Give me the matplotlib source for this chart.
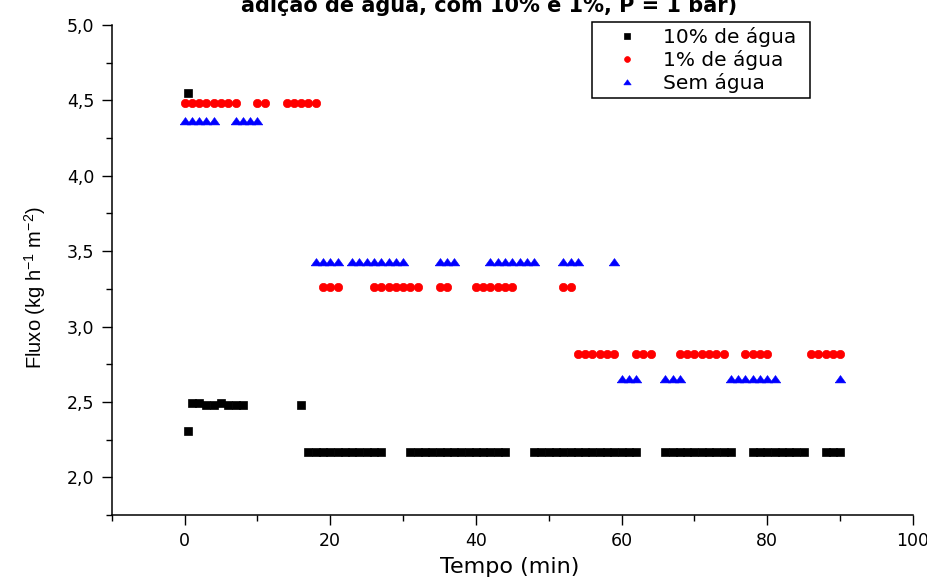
"""
Fluxo de permeado ao longo do tempo, com e sem adição de água.
"""
import matplotlib
matplotlib.use('Agg')
import matplotlib.pyplot as plt
from matplotlib.ticker import MultipleLocator, FuncFormatter

plt.rcParams['font.family'] = 'DejaVu Sans'
plt.rcParams['mathtext.fontset'] = 'custom'
plt.rcParams['mathtext.rm'] = 'Liberation Sans'
plt.rcParams['mathtext.default'] = 'regular'

W, H = 927, 584

# 10% de água
tempo_10 = [0.5, 0.5,
            1, 2, 3, 4, 5, 6, 7, 8,
            16,
            17, 18, 19, 20, 21, 22, 23, 24, 25, 26, 27,
            31, 32, 33, 34, 35, 36, 37, 38, 39, 40, 41, 42, 43, 44,
            48, 49, 50, 51, 52, 53, 54, 55, 56, 57, 58, 59, 60, 61, 62,
            66, 67, 68, 69, 70, 71, 72, 73, 74, 75,
            78, 79, 80, 81, 82, 83, 84, 85,
            88, 89, 90]
fluxo_10 = [4.55, 2.31,
            2.49, 2.49, 2.48, 2.48, 2.49, 2.48, 2.48, 2.48,
            2.48,
            2.17, 2.17, 2.17, 2.17, 2.17, 2.17, 2.17, 2.17, 2.17, 2.17, 2.17,
            2.17, 2.17, 2.17, 2.17, 2.17, 2.17, 2.17, 2.17, 2.17, 2.17, 2.17, 2.17, 2.17, 2.17,
            2.17, 2.17, 2.17, 2.17, 2.17, 2.17, 2.17, 2.17, 2.17, 2.17, 2.17, 2.17, 2.17, 2.17, 2.17,
            2.17, 2.17, 2.17, 2.17, 2.17, 2.17, 2.17, 2.17, 2.17, 2.17,
            2.17, 2.17, 2.17, 2.17, 2.17, 2.17, 2.17, 2.17,
            2.17, 2.17, 2.17]

# 1% de água
tempo_1 = [0, 1, 2, 3, 4, 5, 6, 7,
           10, 11,
           14, 15, 16, 17, 18,
           19, 20, 21,
           26, 27, 28, 29, 30, 31, 32,
           35, 36,
           40, 41, 42, 43, 44, 45,
           52, 53,
           54, 55, 56, 57, 58, 59,
           62, 63, 64,
           68, 69, 70, 71, 72, 73, 74,
           77, 78, 79, 80,
           86, 87, 88, 89, 90]
fluxo_1 = [4.48, 4.48, 4.48, 4.48, 4.48, 4.48, 4.48, 4.48,
           4.48, 4.48,
           4.48, 4.48, 4.48, 4.48, 4.48,
           3.26, 3.26, 3.26,
           3.26, 3.26, 3.26, 3.26, 3.26, 3.26, 3.26,
           3.26, 3.26,
           3.26, 3.26, 3.26, 3.26, 3.26, 3.26,
           3.26, 3.26,
           2.82, 2.82, 2.82, 2.82, 2.82, 2.82,
           2.82, 2.82, 2.82,
           2.82, 2.82, 2.82, 2.82, 2.82, 2.82, 2.82,
           2.82, 2.82, 2.82, 2.82,
           2.82, 2.82, 2.82, 2.82, 2.82]

# sem água
tempo_0 = [0, 1, 2, 3, 4,
           7, 8, 9, 10,
           18, 19, 20, 21,
           23, 24, 25, 26, 27, 28, 29, 30,
           35, 36, 37,
           42, 43, 44, 45, 46, 47, 48,
           52, 53, 54,
           59,
           60, 61, 62,
           66, 67, 68,
           75, 76, 77, 78, 79, 80, 81,
           90]
fluxo_0 = [4.36, 4.36, 4.36, 4.36, 4.36,
           4.36, 4.36, 4.36, 4.36,
           3.43, 3.43, 3.43, 3.43,
           3.43, 3.43, 3.43, 3.43, 3.43, 3.43, 3.43, 3.43,
           3.43, 3.43, 3.43,
           3.43, 3.43, 3.43, 3.43, 3.43, 3.43, 3.43,
           3.43, 3.43, 3.43,
           3.43,
           2.65, 2.65, 2.65,
           2.65, 2.65, 2.65,
           2.65, 2.65, 2.65, 2.65, 2.65, 2.65, 2.65,
           2.65]

# triângulo achatado (mais largo que alto)
triangulo = [(-1.0, -0.65), (1.0, -0.65), (0.0, 0.75), (-1.0, -0.65)]

fig = plt.figure(figsize=(W / 100, H / 100), dpi=100)
ax = fig.add_axes([111.7 / W, 1 - 515 / H, (913 - 111.7) / W, (515 - 25) / H])

ax.plot(tempo_10, fluxo_10, 's', ls='none', color='black', ms=5.2, mew=0.5,
        label='10% de água')
ax.plot(tempo_1, fluxo_1, 'o', ls='none', color='red', ms=6.0, mew=0.5,
        label='1% de água')
ax.plot(tempo_0, fluxo_0, marker=triangulo, ls='none', color='blue', ms=7.6,
        mew=0.4, label='Sem água')

ax.set_xlim(-10, 100)
ax.set_ylim(1.75, 5.0)
for lado in ('top', 'right'):
    ax.spines[lado].set_visible(False)
for lado in ('left', 'bottom'):
    ax.spines[lado].set_linewidth(1.1)

ax.xaxis.set_major_locator(MultipleLocator(20))
ax.xaxis.set_minor_locator(MultipleLocator(10))
ax.yaxis.set_major_locator(MultipleLocator(0.5))
ax.yaxis.set_minor_locator(MultipleLocator(0.25))
ax.xaxis.set_major_formatter(FuncFormatter(lambda v, p: f"{v:.0f}"))
ax.yaxis.set_major_formatter(
    FuncFormatter(lambda v, p: f"{v:.1f}".replace('.', ',')))
ax.tick_params(which='both', direction='out', width=1.0, labelsize=12.5,
               colors='black')
ax.tick_params(which='major', length=7.5, pad=5)
ax.tick_params(which='minor', length=4)

ax.set_xlabel('Tempo (min)', fontsize=16)
ax.xaxis.set_label_coords(0.497, -0.086)
ax.set_ylabel('Fluxo (kg h$^{-1}$ m$^{-2}$)', fontsize=14.5,
              family='Liberation Sans')
ax.yaxis.set_label_coords(-0.079, 0.465)

leg = ax.legend(loc='upper left', mode='expand',
                bbox_to_anchor=(592 / W, 1 - 97 / H, 218 / W, 75 / H),
                bbox_transform=fig.transFigure, borderaxespad=0,
                fontsize=14.5, frameon=True, fancybox=False, framealpha=1,
                borderpad=0.25, labelspacing=0.15, handlelength=3.0,
                handletextpad=0.3, markerscale=0.7)
leg.get_frame().set_edgecolor('black')
leg.get_frame().set_linewidth(1.1)

# título (parcialmente cortado no topo)
fig.text(489 / W, 1 - 12 / H, 'adição de água, com 10% e 1%, P = 1 bar)',
         ha='center', va='baseline', fontsize=15, fontweight='bold')

fig.savefig('out.png', dpi=100)
plt.close(fig)
